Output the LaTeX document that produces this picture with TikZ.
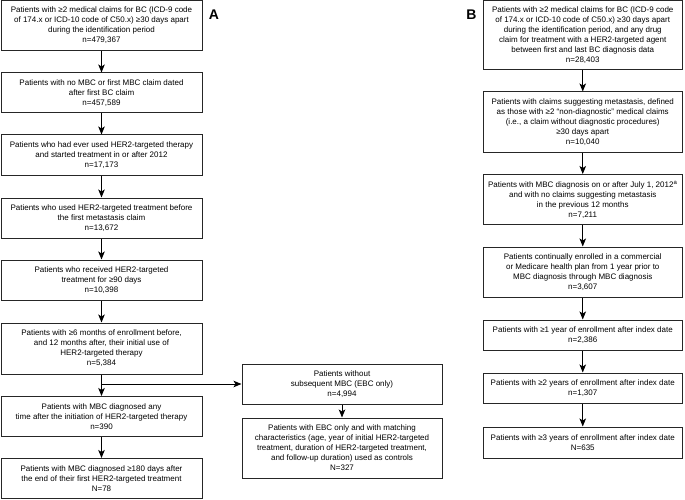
\documentclass[tikz,border=0pt]{standalone}
\usepackage{fontspec}
\setmainfont{Liberation Sans}
\usetikzlibrary{arrows.meta}
\begin{document}
\begin{tikzpicture}[x=1pt,y=-1pt,
  box/.style={draw=black!85, line width=1pt, align=center, inner sep=0pt,
    font=\fontsize{8}{10}\selectfont, text=black},
  lbox/.style={box, minimum width=201pt},
  rbox/.style={box, minimum width=199.5pt},
  ebox/.style={box, minimum width=200pt},
  arr/.style={draw=black, line width=1pt, -{Stealth[length=8pt,width=6.5pt,inset=2pt]}},
  panel/.style={font=\bfseries\fontsize{14}{14}\selectfont}]
\useasboundingbox (0,0) rectangle (685,500);
% Panel A
\node[lbox, minimum height=50pt] (A1) at (101.5,25.5) {Patients with ≥2 medical claims for BC (ICD-9 code\\of 174.x or ICD-10 code of C50.x) ≥30 days apart\\during the identification period\\n=479,367};
\node[lbox, minimum height=40pt] (A2) at (101.5,93) {Patients with no MBC or first MBC claim dated\\after first BC claim\\n=457,589};
\node[lbox, minimum height=40pt] (A3) at (101.5,155) {Patients who had ever used HER2-targeted therapy\\and started treatment in or after 2012\\n=17,173};
\node[lbox, minimum height=40pt] (A4) at (101.5,218) {Patients who used HER2-targeted treatment before\\the first metastasis claim\\n=13,672};
\node[lbox, minimum height=40pt] (A5) at (101.5,280) {Patients who received HER2-targeted\\treatment for ≥90 days\\n=10,398};
\node[lbox, minimum height=51pt] (A6) at (101.5,348.5) {Patients with ≥6 months of enrollment before,\\and 12 months after, their initial use of\\HER2-targeted therapy\\n=5,384};
\node[lbox, minimum height=40pt] (A7) at (101.5,416.5) {Patients with MBC diagnosed any\\time after the initiation of HER2-targeted therapy\\n=390};
\node[lbox, minimum height=40pt] (A8) at (101.5,478.5) {Patients with MBC diagnosed ≥180 days after\\the end of their first HER2-targeted treatment\\N=78};
\node[ebox, minimum height=40pt] (E1) at (342,384) {Patients without\\subsequent MBC (EBC only)\\n=4,994};
\node[ebox, minimum height=60pt] (E2) at (342,448) {Patients with EBC only and with matching\\characteristics (age, year of initial HER2-targeted\\treatment, duration of HER2-targeted treatment,\\and follow-up duration) used as controls\\N=327};
\node[panel] (LA) at (214,15) {A};
% Panel B
\node[rbox, minimum height=69.5pt] (B1) at (582.75,35.25) {Patients with ≥2 medical claims for BC (ICD-9 code\\of 174.x or ICD-10 code of C50.x) ≥30 days apart\\during the identification period, and any drug\\claim for treatment with a HER2-targeted agent\\between first and last BC diagnosis data\\n=28,403};
\node[rbox, minimum height=60pt] (B2) at (582.75,122) {Patients with claims suggesting metastasis, defined\\as those with ≥2 “non-diagnostic” medical claims\\(i.e., a claim without diagnostic procedures)\\≥30 days apart\\n=10,040};
\node[rbox, minimum height=50pt] (B3) at (582.75,199.5) {Patients with MBC diagnosis on or after July 1, 2012\textsuperscript{a}\\and with no claims suggesting metastasis\\in the previous 12 months\\n=7,211};
\node[rbox, minimum height=50pt] (B4) at (582.75,272) {Patients continually enrolled in a commercial\\or Medicare health plan from 1 year prior to\\MBC diagnosis through MBC diagnosis\\n=3,607};
\node[rbox, minimum height=30pt] (B5) at (582.75,335) {Patients with ≥1 year of enrollment after index date\\n=2,386};
\node[rbox, minimum height=30pt] (B6) at (582.75,388) {Patients with ≥2 years of enrollment after index date\\n=1,307};
\node[rbox, minimum height=31pt] (B7) at (582.75,442.5) {Patients with ≥3 years of enrollment after index date\\N=635};
\node[panel] (LB) at (471.5,15) {B};
% Connectors
\draw[arr] (A1) -- (A2);
\draw[arr] (A2) -- (A3);
\draw[arr] (A3) -- (A4);
\draw[arr] (A4) -- (A5);
\draw[arr] (A5) -- (A6);
\draw[arr] (A6) -- (A7);
\draw[arr] (A7) -- (A8);
\coordinate (br) at (A6.south |- E1.west);
\draw[arr] (br) -- (E1.west);
\draw[arr] (E1) -- (E2);
\draw[arr] (B1) -- (B2);
\draw[arr] (B2) -- (B3);
\draw[arr] (B3) -- (B4);
\draw[arr] (B4) -- (B5);
\draw[arr] (B5) -- (B6);
\draw[arr] (B6) -- (B7);
\end{tikzpicture}
\end{document}
